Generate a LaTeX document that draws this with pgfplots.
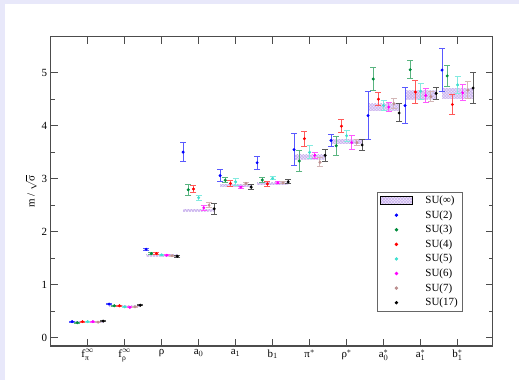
\documentclass[border=0pt]{standalone}
\usepackage{amsmath}
\usepackage{fontspec}
\setmainfont{Liberation Serif}
\usepackage{pgfplots}
\pgfplotsset{compat=1.18}
\usepackage{pgfplotstable}
\usetikzlibrary{patterns}

\definecolor{bgl}{RGB}{232,232,250}
\definecolor{cblue}{RGB}{0,0,255}
\definecolor{cgreen}{RGB}{0,140,60}
\definecolor{cred}{RGB}{255,0,0}
\definecolor{ccyan}{RGB}{64,224,208}
\definecolor{cmag}{RGB}{255,0,255}
\definecolor{cbrown}{RGB}{188,143,143}
\definecolor{cblack}{RGB}{0,0,0}
\definecolor{bandfill}{RGB}{236,226,250}
\definecolor{bandhatch}{RGB}{196,170,236}

\pgfplotstableread{
cat y e
0 0.30 0.01
1 0.63 0.015
2 1.667 0.02
3 3.50 0.185
4 3.057 0.115
5 3.30 0.12
6 3.547 0.30
7 3.72 0.12
8 4.19 0.46
9 4.38 0.34
10 5.05 0.40
}\sutwo
\pgfplotstableread{
cat y e
0 0.28 0.01
1 0.60 0.01
2 1.585 0.015
3 2.79 0.105
4 2.97 0.05
5 2.975 0.04
6 3.333 0.20
7 3.62 0.175
8 4.88 0.21
9 5.057 0.17
10 4.94 0.20
}\suthree
\pgfplotstableread{
cat y e
0 0.30 0.01
1 0.60 0.01
2 1.585 0.015
3 2.805 0.065
4 2.91 0.055
5 2.90 0.04
6 3.755 0.14
7 3.99 0.125
8 4.50 0.125
9 4.635 0.215
10 4.40 0.19
}\sufour
\pgfplotstableread{
cat y e
0 0.30 0.01
1 0.58 0.01
2 1.56 0.01
3 2.64 0.05
4 2.94 0.065
5 3.005 0.03
6 3.497 0.125
7 3.81 0.10
8 4.38 0.10
9 4.65 0.15
10 4.77 0.16
}\sufive
\pgfplotstableread{
cat y e
0 0.30 0.01
1 0.57 0.01
2 1.553 0.01
3 2.45 0.05
4 2.84 0.02
5 2.92 0.02
6 3.44 0.06
7 3.68 0.13
8 4.35 0.09
9 4.57 0.14
10 4.62 0.15
}\susix
\pgfplotstableread{
cat y e
0 0.29 0.01
1 0.58 0.01
2 1.547 0.01
3 2.50 0.04
4 2.91 0.02
5 2.92 0.02
6 3.31 0.08
7 3.68 0.05
8 4.415 0.09
9 4.55 0.10
10 4.67 0.165
}\suseven
\pgfplotstableread{
cat y e
0 0.31 0.01
1 0.61 0.01
2 1.535 0.02
3 2.43 0.10
4 2.84 0.04
5 2.94 0.04
6 3.44 0.11
7 3.635 0.10
8 4.24 0.17
9 4.61 0.12
10 4.71 0.285
}\suseventeen

\pgfplotsset{
  supts/.style={only marks, mark=*, mark size=1.3bp, color=#1,
    error bars/.cd, y dir=both, y explicit, error mark=-,
    error bar style={color=#1!65, line width=1bp},
    error mark options={rotate=90, mark size=3bp, line width=1bp, color=#1!65}},
  band/.style={draw=none, fill=bandfill, postaction={pattern=crosshatch, pattern color=bandhatch}, forget plot},
}

\begin{document}
\begin{tikzpicture}
\fill[bgl] (-50.7bp,-34bp) rectangle (468.3bp,346bp);
\fill[white] (-45.7bp,-34bp) rectangle (468.3bp,342bp);
\begin{axis}[
  at={(0,0)}, anchor=south west,
  scale only axis, width=442bp, height=309.3bp,
  xmin=-1, xmax=10.95, ymin=-0.16, ymax=5.68,
  xtick={0,...,10},
  xticklabels={$\text{f}_{\text{π}}^{\infty}$,$\text{f}_{\text{ρ}}^{\infty}$,$\text{ρ}$,$\text{a}_0$,$\text{a}_1$,$\text{b}_1$,$\text{π}^*$,$\text{ρ}^*$,$\text{a}_0^*$,$\text{a}_1^*$,$\text{b}_1^*$},
  ytick={0,1,2,3,4,5},
  minor y tick num=1,
  major tick length=7bp, minor tick length=4bp,
  axis line style={draw=black!70, line width=1.1bp},
  every tick/.style={black!70, line width=0.9bp},
  tick label style={font=\fontsize{11}{13}\selectfont},
  /pgf/number format/assume math mode=true,
  ylabel={m / $\sqrt{\mbox{σ}}$},
  ylabel style={font=\fontsize{11}{13}\selectfont, yshift=-2bp},
  legend style={at={(0.933,0.499)}, anchor=north east, draw=black!60, line width=0.8bp,
    font=\fontsize{11}{13}\selectfont, row sep=1.5bp, inner xsep=3bp, inner ysep=2bp},
  legend cell align=left,
  legend image code/.code={\path[draw=none,fill=none] (0bp,-4bp) rectangle (43bp,4bp); \draw[mark repeat=2,mark phase=2,#1] plot coordinates {(0bp,0bp) (16bp,0bp) (32bp,0bp)};},
]
% SU(infinity) bands
\addplot[band] coordinates {(-0.42,0.29) (0.42,0.29) (0.42,0.31) (-0.42,0.31)};
\addplot[band] coordinates {(0.58,0.58) (1.42,0.58) (1.42,0.60) (0.58,0.60)};
\addplot[band] coordinates {(1.58,1.535) (2.42,1.535) (2.42,1.565) (1.58,1.565)};
\addplot[band] coordinates {(2.58,2.38) (3.42,2.38) (3.42,2.42) (2.58,2.42)};
\addplot[band] coordinates {(3.58,2.85) (4.42,2.85) (4.42,2.89) (3.58,2.89)};
\addplot[band] coordinates {(4.58,2.885) (5.42,2.885) (5.42,2.925) (4.58,2.925)};
\addplot[band] coordinates {(5.58,3.37) (6.42,3.37) (6.42,3.45) (5.58,3.45)};
\addplot[band] coordinates {(6.58,3.655) (7.42,3.655) (7.42,3.745) (6.58,3.745)};
\addplot[band] coordinates {(7.58,4.28) (8.42,4.28) (8.42,4.41) (7.58,4.41)};
\addplot[band] coordinates {(8.58,4.50) (9.42,4.50) (9.42,4.66) (8.58,4.66)};
\addplot[band] coordinates {(9.58,4.51) (10.42,4.51) (10.42,4.71) (9.58,4.71)};
\addlegendimage{legend image code/.code={\path[draw=none,fill=none] (0bp,-4bp) rectangle (43bp,4bp); \fill[bandfill] (0bp,-4bp) rectangle (32bp,4bp); \fill[pattern=crosshatch, pattern color=bandhatch] (0bp,-4bp) rectangle (32bp,4bp);}}
\addlegendentry{SU(∞)}
\addplot[supts=cblue] table[x expr=\thisrow{cat}-0.42, y=y, y error=e] {\sutwo};
\addlegendentry{SU(2)}
\addplot[supts=cgreen] table[x expr=\thisrow{cat}-0.28, y=y, y error=e] {\suthree};
\addlegendentry{SU(3)}
\addplot[supts=cred] table[x expr=\thisrow{cat}-0.14, y=y, y error=e] {\sufour};
\addlegendentry{SU(4)}
\addplot[supts=ccyan] table[x expr=\thisrow{cat}, y=y, y error=e] {\sufive};
\addlegendentry{SU(5)}
\addplot[supts=cmag] table[x expr=\thisrow{cat}+0.14, y=y, y error=e] {\susix};
\addlegendentry{SU(6)}
\addplot[supts=cbrown] table[x expr=\thisrow{cat}+0.28, y=y, y error=e] {\suseven};
\addlegendentry{SU(7)}
\addplot[supts=cblack] table[x expr=\thisrow{cat}+0.42, y=y, y error=e] {\suseventeen};
\addlegendentry{SU(17)}
\end{axis}
\end{tikzpicture}
\end{document}
